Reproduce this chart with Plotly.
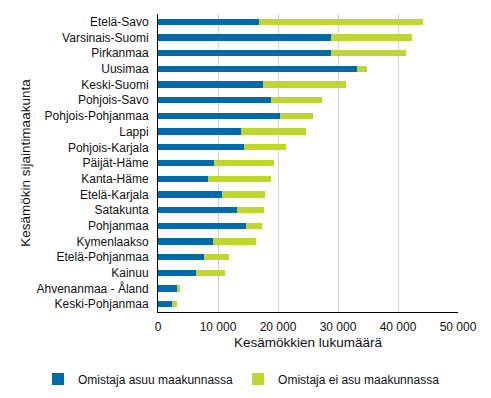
import plotly.graph_objects as go

regions = ["Etelä-Savo", "Varsinais-Suomi", "Pirkanmaa", "Uusimaa", "Keski-Suomi",
           "Pohjois-Savo", "Pohjois-Pohjanmaa", "Lappi", "Pohjois-Karjala", "Päijät-Häme",
           "Kanta-Häme", "Etelä-Karjala", "Satakunta", "Pohjanmaa", "Kymenlaakso",
           "Etelä-Pohjanmaa", "Kainuu", "Ahvenanmaa - Åland", "Keski-Pohjanmaa"]
owner_lives = [16900, 28800, 28900, 33200, 17500, 18900, 20300, 13900, 14400, 9400,
               8300, 10600, 13100, 14600, 9100, 7600, 6400, 3300, 2300]
owner_total = [44100, 42400, 41300, 34900, 31400, 27400, 25900, 24600, 21300, 19400,
               18800, 17900, 17600, 17400, 16400, 11800, 11100, 3600, 3100]
owner_not = [t - a for t, a in zip(owner_total, owner_lives)]

name_lives = "Omistaja asuu maakunnassa"
name_not = "Omistaja ei asu maakunnassa"
tick_vals = [0, 10000, 20000, 30000, 40000, 50000]
tick_text = ["0", "10 000", "20 000", "30 000", "40 000", "50 000"]

fig = go.Figure()
fig.add_trace(go.Bar(y=regions, x=owner_lives, orientation="h", name=name_lives,
                     marker=dict(color="#0069AA", line=dict(width=0))))
fig.add_trace(go.Bar(y=regions, x=owner_not, orientation="h", name=name_not,
                     marker=dict(color="#BED62F", line=dict(width=0))))

# page body has an 8px default margin, so the figure is offset by 8px
fig.update_layout(
    width=483, height=390,
    barmode="stack", bargap=0.6,
    margin=dict(l=150, r=33, t=6, b=86, autoexpand=False),
    paper_bgcolor="white", plot_bgcolor="white",
    font=dict(family="Liberation Sans, Arial, sans-serif", size=12, color="#111111"),
    xaxis=dict(range=[0, 50000], tickvals=tick_vals, ticktext=tick_text,
               showgrid=True, gridcolor="#D0D0D0", gridwidth=1,
               showline=True, linecolor="black", linewidth=1,
               zeroline=False, ticks="", ticklabelstandoff=4,
               title=dict(text="Kesämökkien lukumäärä", font=dict(size=13.5), standoff=4)),
    yaxis=dict(autorange="reversed", showline=True, linecolor="black", linewidth=1,
               ticks="", ticklen=0, ticklabelstandoff=6,
               title=dict(text="Kesämökin sijaintimaakunta", font=dict(size=13.5), standoff=2)),
    legend=dict(orientation="h", x=-0.40, xanchor="left",
                y=-0.225, yanchor="middle",
                font=dict(size=12), itemwidth=30, traceorder="normal"),
)

fig.write_html("out.html")
